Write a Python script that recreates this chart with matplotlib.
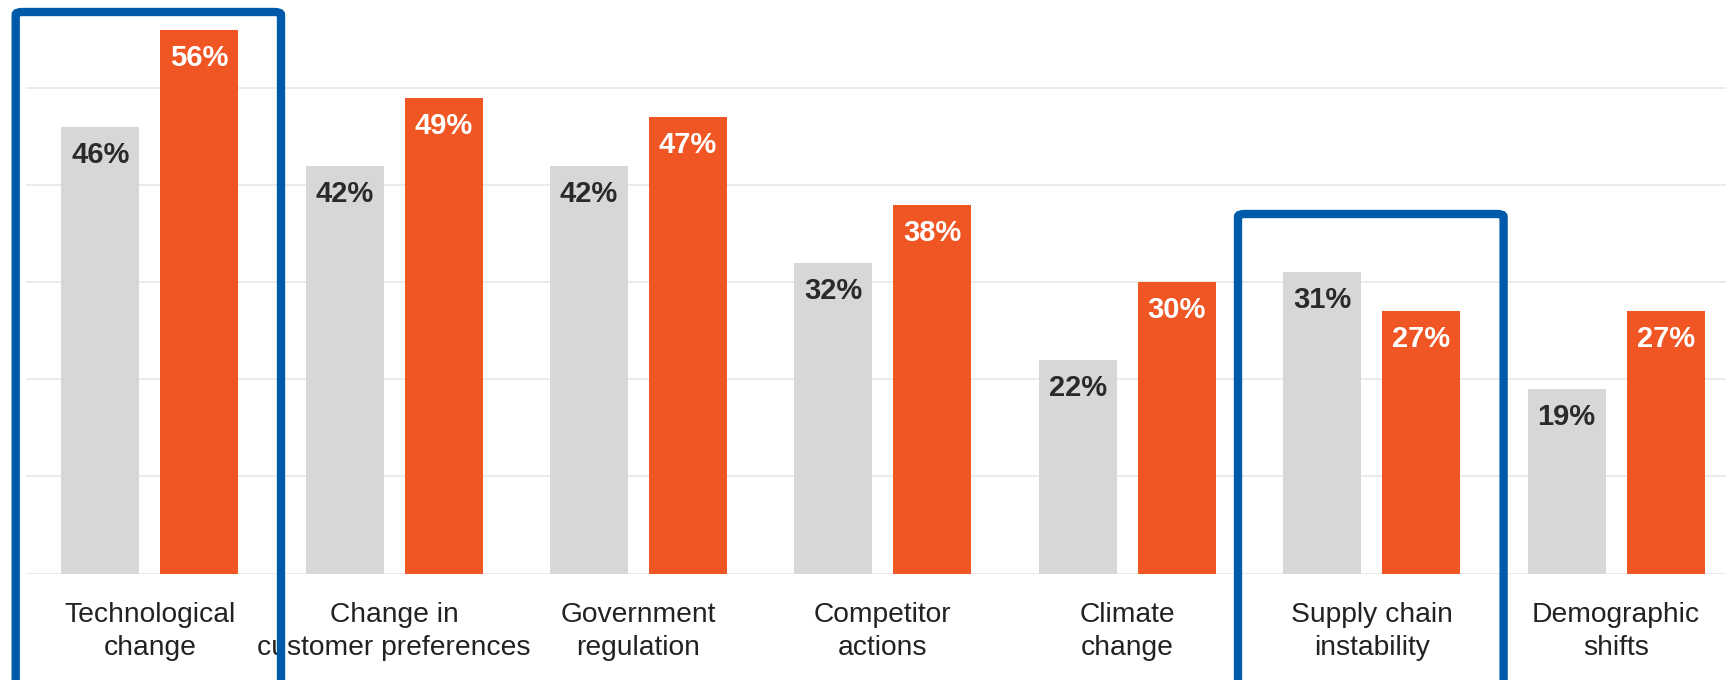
import matplotlib
matplotlib.use("Agg")
import matplotlib.pyplot as plt
import numpy as np
from matplotlib.patches import FancyBboxPatch
from matplotlib.transforms import blended_transform_factory

categories = ["Technological\nchange", "Change in\ncustomer preferences", "Government\nregulation",
              "Competitor\nactions", "Climate\nchange", "Supply chain\ninstability", "Demographic\nshifts"]
series_prev = [46, 42, 42, 32, 22, 31, 19]
series_curr = [56, 49, 47, 38, 30, 27, 27]
highlighted = [0, 5]

GRAY = "#D6D7D6"
ORANGE = "#F05623"
BLUE = "#005AAA"
GRID = "#E8E8E8"

W, H = 1726, 680
fig = plt.figure(figsize=(W / 100, H / 100), dpi=100)
plt.rcParams['font.family'] = ['Liberation Sans', 'DejaVu Sans']

# axes placement (pixel-based)
left_px, base_px = 26, 573.5
px_per_unit_x = 244.4
center0 = 149.7
xmin = (left_px - center0) / px_per_unit_x
xmax = (W - center0) / px_per_unit_x
px_per_pct = 9.71
ytop = 58
ax_h_px = ytop * px_per_pct
ax = fig.add_axes([left_px / W, (H - base_px) / H, 1 - left_px / W, ax_h_px / H])
ax.set_xlim(xmin, xmax)
ax.set_ylim(0, ytop)

x = np.arange(len(categories))
off = 49.5 / px_per_unit_x
bw = 78 / px_per_unit_x
ax.bar(x - off, series_prev, width=bw, color=GRAY, zorder=3)
ax.bar(x + off, series_curr, width=bw, color=ORANGE, zorder=3)

for yv in [0, 10, 20, 30, 40, 50]:
    ax.axhline(yv, color=GRID, lw=1.3, zorder=1)

lab_off = 28 / px_per_pct
for i in range(len(categories)):
    ax.text(x[i] - off, series_prev[i] - lab_off, f"{series_prev[i]}%", ha="center", va="center",
            fontsize=21, fontweight="bold", color="#2A2A2A", zorder=4)
    ax.text(x[i] + off, series_curr[i] - lab_off, f"{series_curr[i]}%", ha="center", va="center",
            fontsize=21, fontweight="bold", color="white", zorder=4)

tr = blended_transform_factory(ax.transData, fig.transFigure)
for i, c in enumerate(categories):
    ax.text(x[i], 1 - 631.5 / H, c, transform=tr, ha="center", va="center", fontsize=20.3,
            color="#222222", linespacing=1.33, clip_on=False)

for s in ax.spines.values():
    s.set_visible(False)
ax.set_xticks([])
ax.set_yticks([])

# highlight boxes (pixel coordinates: left, top, right)
boxes = [(15.7, 12, 281), (1238, 214, 1503.6)]
for (l, t, r) in boxes:
    rect = FancyBboxPatch((l / W, -0.1), (r - l) / W, (H - t) / H + 0.1,
                          boxstyle="round,pad=0,rounding_size=0.004",
                          transform=fig.transFigure, fill=False, edgecolor=BLUE,
                          linewidth=6.0, zorder=10, clip_on=False)
    fig.add_artist(rect)

fig.savefig("out.png", dpi=100)
